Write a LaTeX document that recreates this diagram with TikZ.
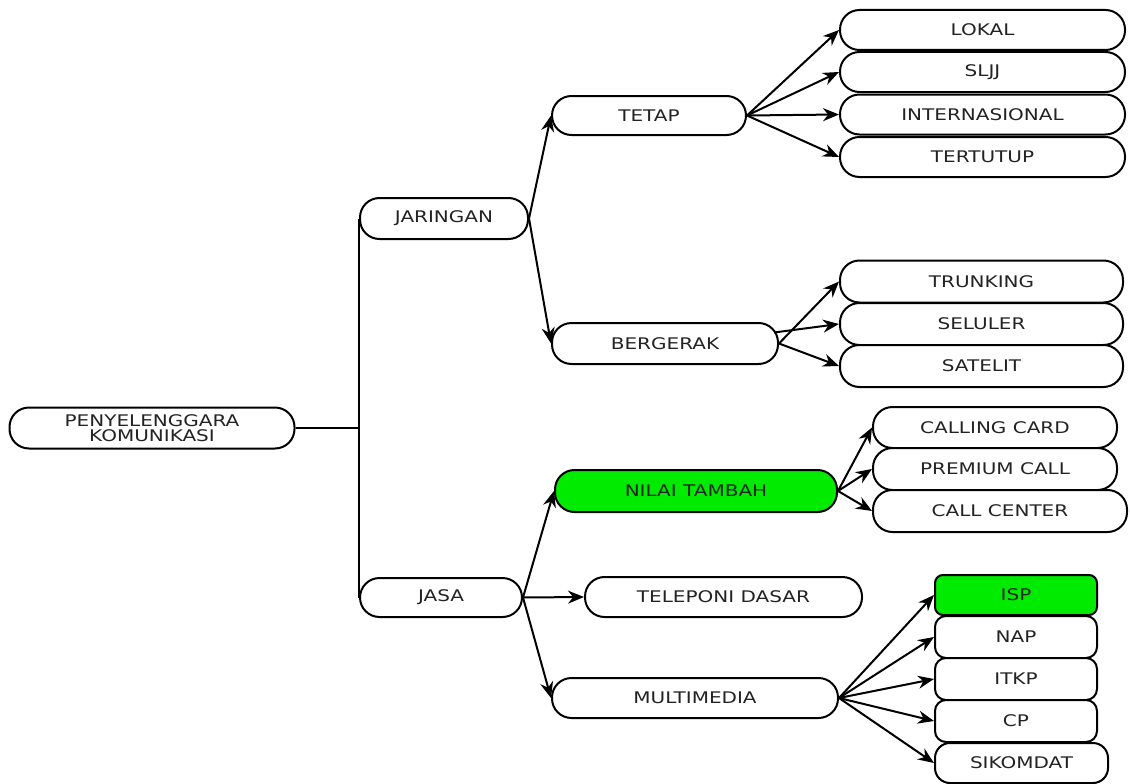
\documentclass[tikz,border=0pt]{standalone}
\usepackage{fontspec}
\newfontfamily\lblfont{DejaVu Sans}[FakeStretch=1.25]
\usetikzlibrary{arrows.meta}
\definecolor{brightgreen}{RGB}{0,235,0}
\definecolor{txt}{RGB}{35,35,35}
\begin{document}
\begin{tikzpicture}[x=1pt,y=-1pt,
  box/.style={draw, line width=2pt, rounded corners=19.5pt, fill=white, inner sep=0pt,
    font=\lblfont\fontsize{16}{17}\selectfont, text=txt, align=center,
    minimum height=41pt},
  sbox/.style={box, rounded corners=11pt},
  link/.style={line width=2pt},
  conn/.style={line width=2pt, -{Stealth[length=16pt,width=13pt]}}]
\useasboundingbox (0,0) rectangle (1130,784);
% level 0/1
\node[box, minimum width=285pt] (root) at (152,428) {PENYELENGGARA\\[-2pt]KOMUNIKASI};
\node[box, minimum width=168pt] (jaringan) at (444,218.5) {JARINGAN};
\node[box, minimum width=162pt, minimum height=39pt] (jasa) at (441,597.5) {JASA};
% level 2
\node[box, minimum width=194pt, minimum height=39pt] (tetap) at (649,115.5) {TETAP};
\node[box, minimum width=226pt] (bergerak) at (665,343.5) {BERGERAK};
\node[box, minimum width=282pt, minimum height=42pt, fill=brightgreen] (nilai) at (696,491) {NILAI TAMBAH};
\node[box, minimum width=277pt, minimum height=40pt] (teleponi) at (723.5,597) {TELEPONI DASAR};
\node[box, minimum width=286pt, minimum height=40pt] (multimedia) at (695,698) {MULTIMEDIA};
% level 3: tetap
\node[box, minimum width=285pt, minimum height=40pt] (lokal) at (982.5,30) {LOKAL};
\node[box, minimum width=285pt, minimum height=40pt] (sljj) at (982.5,72) {SLJJ};
\node[box, minimum width=285pt, minimum height=40pt] (intl) at (982.5,114.5) {INTERNASIONAL};
\node[box, minimum width=285pt, minimum height=40pt] (tertutup) at (982.5,157) {TERTUTUP};
% bergerak
\node[box, minimum width=283pt, minimum height=42pt] (trunking) at (981.5,281.5) {TRUNKING};
\node[box, minimum width=283pt, minimum height=42pt] (seluler) at (981.5,324) {SELULER};
\node[box, minimum width=283pt, minimum height=42pt] (satelit) at (981.5,366) {SATELIT};
% nilai tambah
\node[box, minimum width=244pt] (calling) at (995,427.5) {CALLING CARD};
\node[box, minimum width=244pt, minimum height=42pt] (premium) at (995,469) {PREMIUM CALL};
\node[box, minimum width=254pt, minimum height=42pt] (callcenter) at (1000,511) {CALL CENTER};
% multimedia
\node[sbox, minimum width=162pt, minimum height=40pt, fill=brightgreen, rounded corners=8pt] (isp) at (1016,595) {ISP};
\node[sbox, minimum width=162pt, minimum height=42pt] (nap) at (1016,637) {NAP};
\node[sbox, minimum width=162pt, minimum height=42pt] (itkp) at (1016,679) {ITKP};
\node[sbox, minimum width=162pt, minimum height=42pt] (cp) at (1016,721) {CP};
\node[sbox, minimum width=173pt, minimum height=40pt, rounded corners=15pt] (sikomdat) at (1021.5,763) {SIKOMDAT};
% connectors
\coordinate (trunk) at (360,428);
\draw[link] (root.east) -- (trunk);
\draw[link] (jaringan.west) -- (jasa.west);
\draw[conn] (jaringan.east) -- (tetap.west);
\draw[conn] (jaringan.east) -- (bergerak.west);
\draw[conn] (jasa.east) -- (nilai.west);
\draw[conn] (jasa.east) -- (teleponi.west);
\draw[conn] (jasa.east) -- (multimedia.west);
\foreach \t in {lokal,sljj,intl,tertutup} \draw[conn] (tetap.east) -- (\t.west);
\draw[conn] (bergerak.east) -- (trunking.west);
\draw[conn] ([xshift=-5pt,yshift=11pt]bergerak.east) -- (seluler.west);
\draw[conn] (bergerak.east) -- (satelit.west);
\foreach \t in {calling,premium,callcenter} \draw[conn] (nilai.east) -- (\t.west);
\foreach \t in {isp,nap,itkp,cp,sikomdat} \draw[conn] (multimedia.east) -- (\t.west);
\end{tikzpicture}
\end{document}
